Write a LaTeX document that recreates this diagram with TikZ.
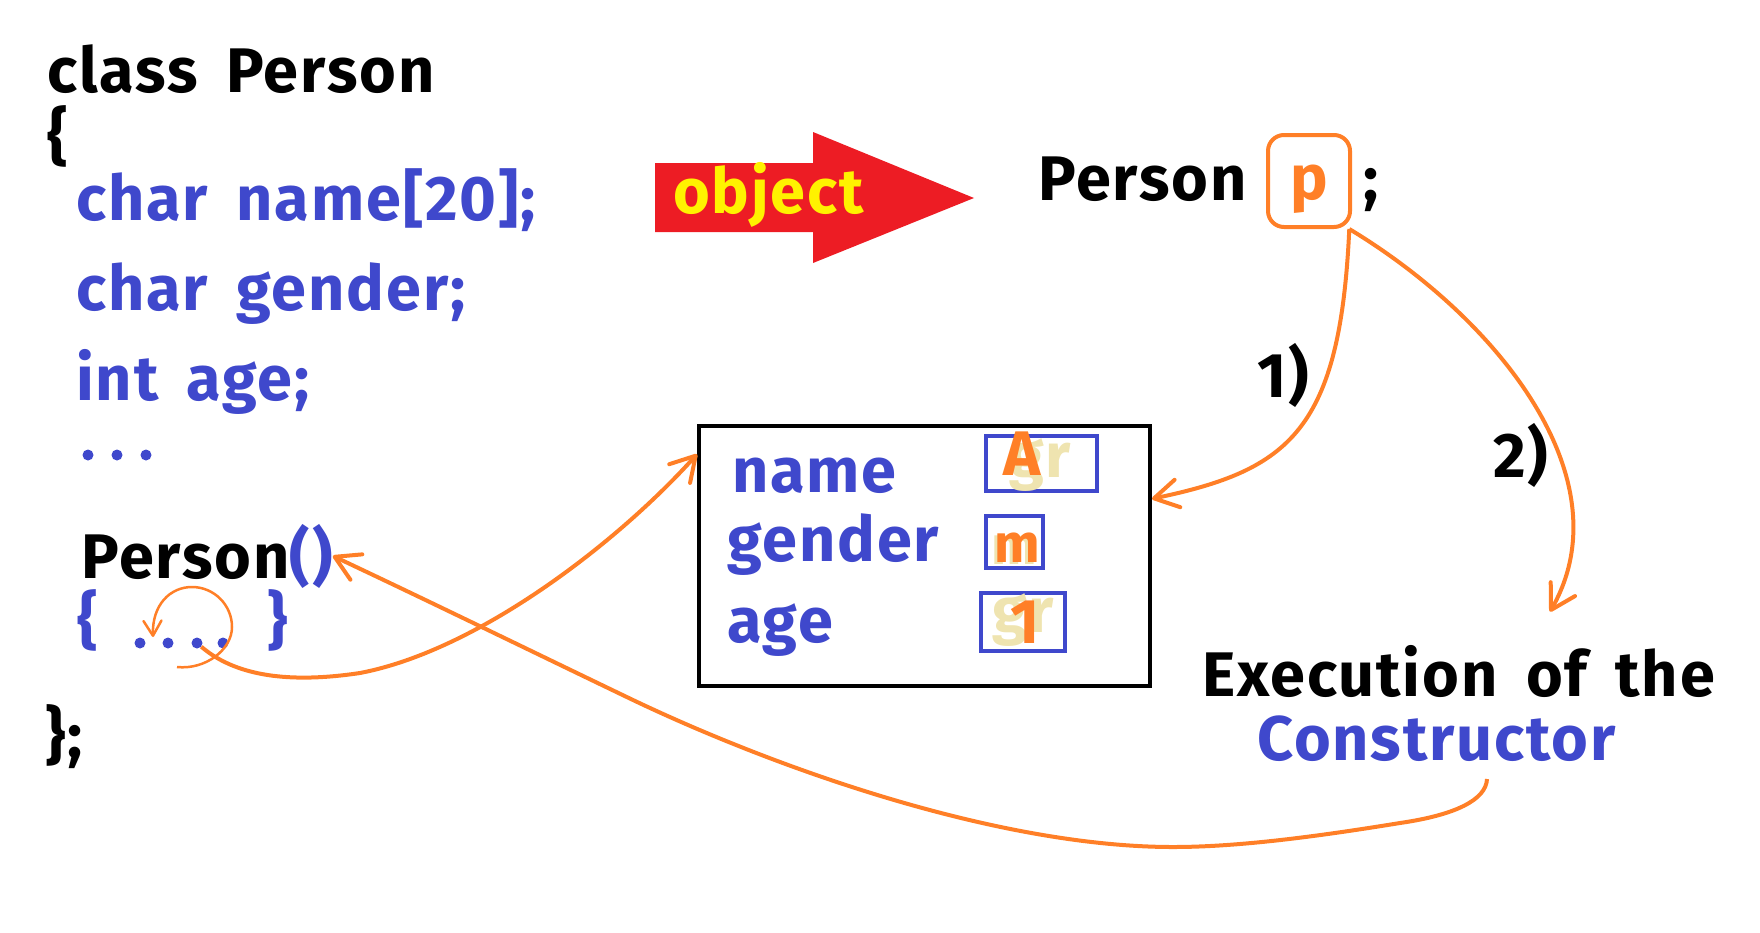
\documentclass[tikz,border=0pt]{standalone}
\usepackage{fontspec}
\setmainfont{Fira Sans}[WordSpace=1.7, LetterSpace=3]
\usetikzlibrary{arrows.meta,calc}
\definecolor{codeblue}{HTML}{3F48CC}
\definecolor{linkorange}{HTML}{FF7F27}
\definecolor{objred}{HTML}{ED1C24}
\definecolor{objyellow}{HTML}{FFF200}
\definecolor{oldvalue}{HTML}{EFE4B0}
\tikzset{
  txt/.style={font=\fontsize{63}{70}\selectfont\bfseries, inner sep=0pt, anchor=base west},
  code/.style={txt, text=codeblue},
  dotnode/.style={circle, fill=codeblue, inner sep=0pt, minimum size=11pt},
  valbox/.style={draw=codeblue, line width=4pt, inner sep=0pt},
  link/.style={draw=linkorange, line width=4pt, -{Straight Barb[length=24pt,width=28pt,round]}},
}
\begin{document}
\begin{tikzpicture}[x=1pt, y=-1pt]
\useasboundingbox (0,0) rectangle (1760,932);

% class declaration
\node[txt] (cls) at (47,92) {class Person};
\node[txt] (open) at (47,158) {\{};
\node[code] (fname) at (76,220) {char name[20];};
\node[code] (fgender) at (76,310) {char gender;};
\node[code] (fage) at (76,400) {int age;};
\foreach \x [count=\n] in {88,117,146}
  \node[dotnode] (more\n) at (\x,455) {};
\node[txt] (ctor) at (81,578) {Person};
\node[code] (paren) at (ctor.base east) {()};
\node[code] (bopen) at (77,642) {\{};
\foreach \x [count=\n] in {140,168,197,223}
  \node[dotnode] (d\n) at (\x,643) {};
\node[code] (bclose) at (267,642) {\}};
\node[txt] (close) at (45,757) {\};};

% object arrow
\fill[objred] (655,163) -- (813,163) -- (813,132) -- (974,198) -- (813,263) -- (813,232) -- (655,232) -- cycle;
\node[txt, text=objyellow] (obj) at (673,213) {object};

% declaration of p
\node[txt] (decl) at (1038,200) {Person};
\node[draw=linkorange, line width=4pt, rounded corners=16pt, minimum width=82pt, minimum height=92pt,
  text height=44pt, text depth=8pt, inner sep=0pt, text=linkorange,
  font=\fontsize{63}{70}\selectfont\bfseries] (pvar) at (1309,181) {p};
\node[txt] (semi) at (1363,200) {;};

% memory of p
\node[draw, line width=4pt, minimum width=451pt, minimum height=260pt] (mem) at (924.5,555.5) {};
\node[code] (mname) at (732,492) {name};
\node[code] (mgender) at (727,561) {gender};
\node[code] (mage) at (727,642) {age};
\node[valbox, minimum width=111pt, minimum height=55pt] (vname) at (1041.5,463.5) {};
\node[valbox, minimum width=57pt, minimum height=52pt] (vgender) at (1014.5,542) {};
\node[valbox, minimum width=84pt, minimum height=58pt] (vage) at (1023,622) {};
% old and new values
\node[txt, text=oldvalue] (oldname) at (1009,477) {gr};
\node[txt, text=linkorange] (newname) at (1003,475) {A};
\node[txt, text=oldvalue, font=\fontsize{54}{60}\selectfont\bfseries] (oldgender) at (991,564) {m};
\node[txt, text=linkorange, font=\fontsize{54}{60}\selectfont\bfseries] (newgender) at (994,562) {m};
\node[txt, text=oldvalue] (oldage) at (992,632) {gr};
\node[txt, text=linkorange] (newage) at (1010,643) {1};

% steps
\node[txt] (step1) at (1257,397) {1)};
\node[txt] (step2) at (1493,477) {2)};
\node[txt] (exec) at (1202,696) {Execution of the};
\node[code] (cons) at (1257,760) {Constructor};

% links
\draw[link] (pvar.-50) .. controls (1340,430) and (1290,470) .. (mem.14);
\draw[link] (pvar.-50) .. controls (1500,320) and (1625,480) .. ($(exec.north west)+(348,-33)$);
\draw[link] ($(cons.base west)+(230,19)$) .. controls (1486,800) and (1455,815) .. (1400,823)
  .. controls (1320,836) and (1240,847) .. (1173,847)
  .. controls (1000,847) and (780,770) .. (633,700)
  .. controls (533,652) and (437,605) .. (paren.east);
\draw[link] (d3) .. controls (240,680) and (300,682) .. (360,673)
  .. controls (480,650) and (620,540) .. (mem.156);

% loop inside the constructor
\draw[linkorange, line width=2.5pt, -{Straight Barb[length=15pt,width=18pt,round]}]
  (177,667) .. controls (205,670) and (232,650) .. (232,627)
  .. controls (232,605) and (214,587) .. (192,587)
  .. controls (170,587) and (152,605) .. (153,637);
\end{tikzpicture}
\end{document}
